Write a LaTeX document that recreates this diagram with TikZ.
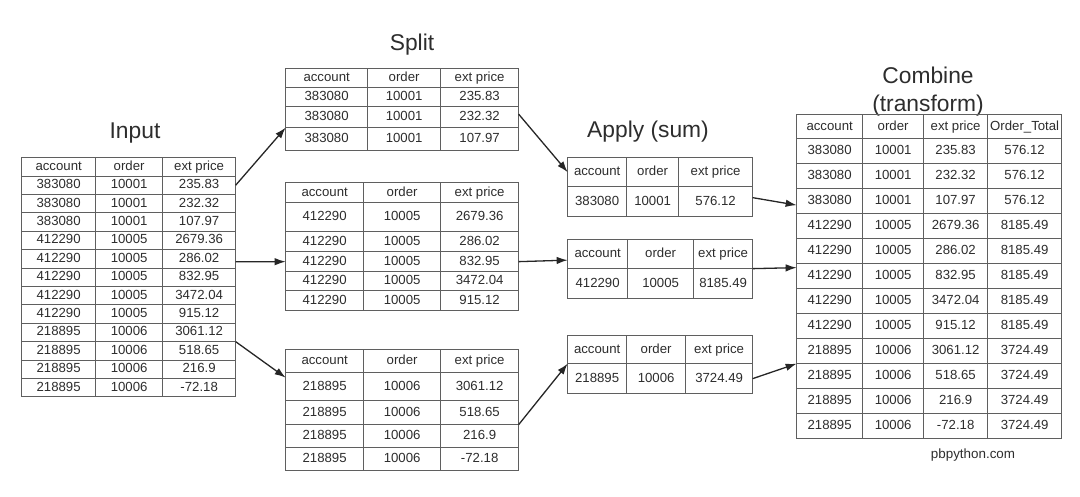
\documentclass[tikz,border=0pt]{standalone}
\usepackage{fontspec}
\setmainfont{Liberation Sans}
\usepackage{tikz}
\usetikzlibrary{matrix,arrows.meta}

\definecolor{gridgray}{RGB}{95,95,95}
\definecolor{inkgray}{RGB}{45,45,45}

\tikzset{
  cell/.style={draw=gridgray, line width=0.9pt, inner sep=0pt, outer sep=0pt,
    text height=9.5pt, text depth=2.6pt, font=\fontsize{13.2}{15}\selectfont, text=inkgray},
  datatable/.style={matrix of nodes, anchor=north west, inner sep=0pt,
    row sep=-0.9pt, column sep=-0.9pt, nodes={cell}},
  title/.style={font=\fontsize{22.8}{28}\selectfont, text=inkgray, align=center},
  flow/.style={-{Latex[length=11pt,width=7.5pt]}, line width=1.3pt, black!85},
}

\begin{document}
\begin{tikzpicture}[x=1pt, y=-1pt]
    \useasboundingbox (0,0) rectangle (1080,497);

    % Titles
    \node[title] (tInput) at (135,133) {Input};
    \node[title] (tSplit) at (412,45) {Split};
    \node[title] (tApply) at (648,132) {Apply (sum)};
    \node[title] (tCombine) at (928,92) {Combine\\(transform)};
    \node[font=\fontsize{13.4}{15}\selectfont, text=inkgray] (source) at (973,455) {pbpython.com};

    % Input table
    \matrix[datatable, nodes={minimum height=18.4pt},
      column 1/.style={nodes={minimum width=74pt}},
      column 2/.style={nodes={minimum width=67pt}},
      column 3/.style={nodes={minimum width=73pt}}] (in) at (21,157) {
      account & order & ext price \\
      383080 & 10001 & 235.83 \\
      383080 & 10001 & 232.32 \\
      383080 & 10001 & 107.97 \\
      412290 & 10005 & 2679.36 \\
      412290 & 10005 & 286.02 \\
      412290 & 10005 & 832.95 \\
      412290 & 10005 & 3472.04 \\
      412290 & 10005 & 915.12 \\
      218895 & 10006 & 3061.12 \\
      218895 & 10006 & 518.65 \\
      218895 & 10006 & 216.9 \\
      218895 & 10006 & -72.18 \\
    };

    % Split tables
    \matrix[datatable,
      column 1/.style={nodes={minimum width=82pt}},
      column 2/.style={nodes={minimum width=73pt}},
      column 3/.style={nodes={minimum width=78pt}},
      row 1/.style={nodes={minimum height=19pt}},
      row 2/.style={nodes={minimum height=19pt}},
      row 3/.style={nodes={minimum height=21pt}},
      row 4/.style={nodes={minimum height=23pt}}] (sp1) at (285,68) {
      account & order & ext price \\
      383080 & 10001 & 235.83 \\
      383080 & 10001 & 232.32 \\
      383080 & 10001 & 107.97 \\
    };
    \matrix[datatable, nodes={minimum height=20pt},
      column 1/.style={nodes={minimum width=78pt}},
      column 2/.style={nodes={minimum width=77pt}},
      column 3/.style={nodes={minimum width=78pt}},
      row 2/.style={nodes={minimum height=29pt}},
      row 5/.style={nodes={minimum height=19pt}}] (sp2) at (285,182) {
      account & order & ext price \\
      412290 & 10005 & 2679.36 \\
      412290 & 10005 & 286.02 \\
      412290 & 10005 & 832.95 \\
      412290 & 10005 & 3472.04 \\
      412290 & 10005 & 915.12 \\
    };
    \matrix[datatable, nodes={minimum height=23pt},
      column 1/.style={nodes={minimum width=78pt}},
      column 2/.style={nodes={minimum width=77pt}},
      column 3/.style={nodes={minimum width=78pt}},
      row 2/.style={nodes={minimum height=28pt}},
      row 3/.style={nodes={minimum height=24pt}}] (sp3) at (285,349) {
      account & order & ext price \\
      218895 & 10006 & 3061.12 \\
      218895 & 10006 & 518.65 \\
      218895 & 10006 & 216.9 \\
      218895 & 10006 & -72.18 \\
    };

    % Apply tables
    \matrix[datatable,
      column 1/.style={nodes={minimum width=59pt}},
      column 2/.style={nodes={minimum width=52pt}},
      column 3/.style={nodes={minimum width=74pt}},
      row 1/.style={nodes={minimum height=29pt}},
      row 2/.style={nodes={minimum height=30pt}}] (ap1) at (567,157) {
      account & order & ext price \\
      383080 & 10001 & 576.12 \\
    };
    \matrix[datatable,
      column 1/.style={nodes={minimum width=60pt}},
      column 2/.style={nodes={minimum width=66pt}},
      column 3/.style={nodes={minimum width=59pt}},
      row 1/.style={nodes={minimum height=29pt}},
      row 2/.style={nodes={minimum height=30pt}}] (ap2) at (567,239) {
      account & order & ext price \\
      412290 & 10005 & 8185.49 \\
    };
    \matrix[datatable,
      column 1/.style={nodes={minimum width=59pt}},
      column 2/.style={nodes={minimum width=59pt}},
      column 3/.style={nodes={minimum width=67pt}},
      row 1/.style={nodes={minimum height=28pt}},
      row 2/.style={nodes={minimum height=30pt}}] (ap3) at (567,335) {
      account & order & ext price \\
      218895 & 10006 & 3724.49 \\
    };

    % Combine table
    \matrix[datatable, nodes={minimum height=25pt},
      column 1/.style={nodes={minimum width=66pt}},
      column 2/.style={nodes={minimum width=61pt}},
      column 3/.style={nodes={minimum width=64pt}},
      column 4/.style={nodes={minimum width=74pt}},
      row 1/.style={nodes={minimum height=24pt}}] (co) at (796,114) {
      account & order & ext price & Order\_Total \\
      383080 & 10001 & 235.83 & 576.12 \\
      383080 & 10001 & 232.32 & 576.12 \\
      383080 & 10001 & 107.97 & 576.12 \\
      412290 & 10005 & 2679.36 & 8185.49 \\
      412290 & 10005 & 286.02 & 8185.49 \\
      412290 & 10005 & 832.95 & 8185.49 \\
      412290 & 10005 & 3472.04 & 8185.49 \\
      412290 & 10005 & 915.12 & 8185.49 \\
      218895 & 10006 & 3061.12 & 3724.49 \\
      218895 & 10006 & 518.65 & 3724.49 \\
      218895 & 10006 & 216.9 & 3724.49 \\
      218895 & 10006 & -72.18 & 3724.49 \\
    };

    % input - split arrows
    \draw[flow] (in-2-3.east) -- (sp1-4-1.north west);
    \draw[flow] ([yshift=-3pt]in-6-3.east) -- (sp2-4-1.west);
    \draw[flow] (in-10-3.south east) -- ([yshift=-5pt]sp3-2-1.north west);

    % split - apply arrows
    \draw[flow] ([yshift=3pt]sp1-3-3.east) -- (ap1-1-1.west);
    \draw[flow] (sp2-4-3.east) -- ([yshift=-6pt]ap2-1-1.west);
    \draw[flow] (sp3-3-3.south east) -- (ap3-1-1.south west);

    % apply - combine arrows
    \draw[flow] ([yshift=4pt]ap1-2-3.east) -- ([yshift=-4pt]co-4-1.west);
    \draw[flow] (ap2-1-3.south east) -- ([yshift=-4pt]co-7-1.north west);
    \draw[flow] (ap3-2-3.east) -- (co-10-1.south west);

\end{tikzpicture}
\end{document}
